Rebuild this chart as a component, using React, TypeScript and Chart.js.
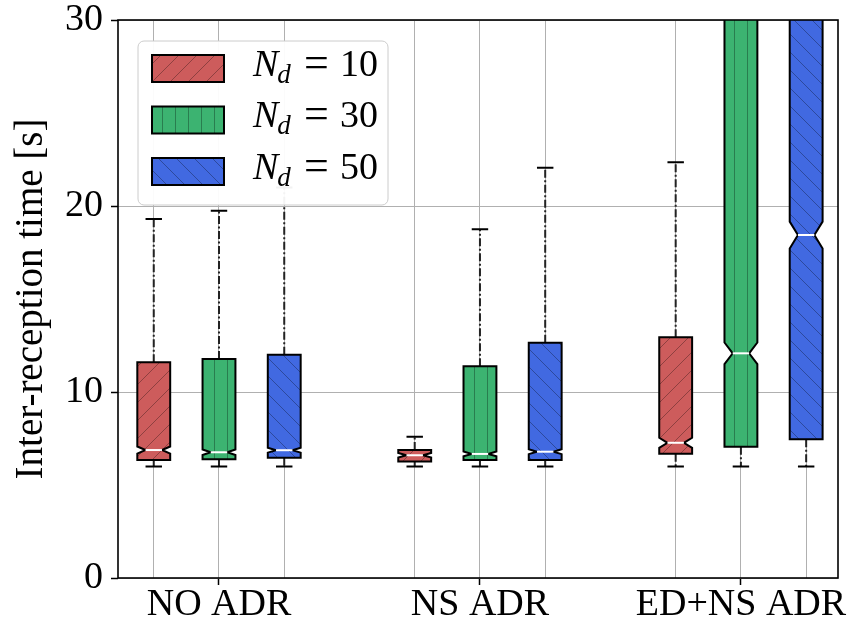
import { useEffect, useRef } from 'react';
import { Chart, registerables } from 'chart.js';

Chart.register(...registerables);

// Scheme groups along the x axis
const categories = ['NO ADR', 'NS ADR', 'ED+NS ADR'];
const seriesNd = ['10', '30', '50'];

// N_d = 10
const whiskerLow10 = [6.0, 6.0, 6.0];
const q1_10 = [6.35, 6.27, 6.68];
const median10 = [6.88, 6.6, 7.27];
const q3_10 = [11.6, 6.88, 12.95];
const whiskerHigh10 = [19.3, 7.6, 22.35];
const notch10 = [0.19, 0.12, 0.27];

// N_d = 30
const whiskerLow30 = [6.0, 6.0, 6.0];
const q1_30 = [6.38, 6.34, 7.06];
const median30 = [6.76, 6.67, 12.08];
const q3_30 = [11.78, 11.38, 38.0];
const whiskerHigh30 = [19.75, 18.75, 70.0];
const notch30 = [0.15, 0.13, 0.58];

// N_d = 50
const whiskerLow50 = [6.0, 6.0, 6.0];
const q1_50 = [6.47, 6.34, 7.46];
const median50 = [6.87, 6.79, 18.44];
const q3_50 = [12.0, 12.65, 42.0];
const whiskerHigh50 = [21.0, 22.05, 80.0];
const notch50 = [0.13, 0.13, 0.72];

const yTicks = [0, 10, 20, 30];

type Stats = { lo: number[]; q1: number[]; med: number[]; q3: number[]; hi: number[]; notch: number[] };

const seriesStats: Stats[] = [
  { lo: whiskerLow10, q1: q1_10, med: median10, q3: q3_10, hi: whiskerHigh10, notch: notch10 },
  { lo: whiskerLow30, q1: q1_30, med: median30, q3: q3_30, hi: whiskerHigh30, notch: notch30 },
  { lo: whiskerLow50, q1: q1_50, med: median50, q3: q3_50, hi: whiskerHigh50, notch: notch50 },
];

const fillColors = ['#cd5c5c', '#3cb371', '#4169e1'];
const hatchKinds = ['/', '|', '\\'];
const seriesOffsets = [-0.25, 0, 0.25];
const BOX_WIDTH = 0.126;
const FONT = '"Liberation Serif", "Times New Roman", serif';

const tickPositions: number[] = [];
categories.forEach((_, g) => seriesOffsets.forEach((o) => tickPositions.push(g + 1 + o)));
tickPositions.sort((a, b) => a - b);

function makeHatch(kind: string): CanvasPattern | string {
  const c = document.createElement('canvas');
  const size = kind === '|' ? 13 : 18;
  c.width = size;
  c.height = size;
  const g = c.getContext('2d')!;
  g.strokeStyle = 'rgba(0,0,0,0.3)';
  g.lineWidth = 1;
  g.beginPath();
  if (kind === '|') {
    g.moveTo(6.5, 0);
    g.lineTo(6.5, size);
  } else {
    for (const o of [-size, 0, size]) {
      if (kind === '/') {
        g.moveTo(o, size);
        g.lineTo(o + size, 0);
      } else {
        g.moveTo(o, 0);
        g.lineTo(o + size, size);
      }
    }
  }
  g.stroke();
  return g.createPattern(c, 'repeat') || 'transparent';
}

function drawBox(
  ctx: CanvasRenderingContext2D,
  chart: Chart,
  pos: number,
  s: Stats,
  i: number,
  fill: string,
  hatch: CanvasPattern | string,
) {
  const xs = chart.scales.x;
  const ys = chart.scales.y;
  const xc = xs.getPixelForValue(pos);
  const half = (xs.getPixelForValue(pos + BOX_WIDTH / 2) - xs.getPixelForValue(pos - BOX_WIDTH / 2)) / 2;
  const L = xc - half;
  const R = xc + half;
  const yLo = ys.getPixelForValue(s.lo[i]);
  const yQ1 = ys.getPixelForValue(s.q1[i]);
  const yMed = ys.getPixelForValue(s.med[i]);
  const yQ3 = ys.getPixelForValue(s.q3[i]);
  const yHi = ys.getPixelForValue(s.hi[i]);
  const yNlo = ys.getPixelForValue(s.med[i] - s.notch[i]);
  const yNhi = ys.getPixelForValue(s.med[i] + s.notch[i]);

  // whiskers (dash-dot)
  ctx.save();
  ctx.strokeStyle = '#222';
  ctx.lineWidth = 2;
  ctx.setLineDash([8, 2.5, 2, 2.5]);
  ctx.beginPath();
  ctx.moveTo(xc, yQ3);
  ctx.lineTo(xc, yHi);
  ctx.moveTo(xc, yQ1);
  ctx.lineTo(xc, yLo);
  ctx.stroke();
  ctx.restore();

  // caps
  ctx.save();
  ctx.strokeStyle = '#000';
  ctx.lineWidth = 2;
  ctx.beginPath();
  ctx.moveTo(xc - half / 2, yHi);
  ctx.lineTo(xc + half / 2, yHi);
  ctx.moveTo(xc - half / 2, yLo);
  ctx.lineTo(xc + half / 2, yLo);
  ctx.stroke();
  ctx.restore();

  // notched box
  const inset = half / 2;
  ctx.save();
  ctx.beginPath();
  ctx.moveTo(L, yQ1);
  ctx.lineTo(L, yNlo);
  ctx.lineTo(L + inset, yMed);
  ctx.lineTo(L, yNhi);
  ctx.lineTo(L, yQ3);
  ctx.lineTo(R, yQ3);
  ctx.lineTo(R, yNhi);
  ctx.lineTo(R - inset, yMed);
  ctx.lineTo(R, yNlo);
  ctx.lineTo(R, yQ1);
  ctx.closePath();
  ctx.fillStyle = fill;
  ctx.fill();
  ctx.fillStyle = hatch;
  ctx.fill();
  ctx.strokeStyle = '#000';
  ctx.lineWidth = 2;
  ctx.lineJoin = 'miter';
  ctx.stroke();

  // median
  ctx.strokeStyle = '#fff';
  ctx.lineWidth = 2;
  ctx.beginPath();
  ctx.moveTo(L + inset, yMed);
  ctx.lineTo(R - inset, yMed);
  ctx.stroke();
  ctx.restore();
}

function roundRectPath(ctx: CanvasRenderingContext2D, x: number, y: number, w: number, h: number, r: number) {
  ctx.beginPath();
  ctx.moveTo(x + r, y);
  ctx.lineTo(x + w - r, y);
  ctx.arcTo(x + w, y, x + w, y + r, r);
  ctx.lineTo(x + w, y + h - r);
  ctx.arcTo(x + w, y + h, x + w - r, y + h, r);
  ctx.lineTo(x + r, y + h);
  ctx.arcTo(x, y + h, x, y + h - r, r);
  ctx.lineTo(x, y + r);
  ctx.arcTo(x, y, x + r, y, r);
  ctx.closePath();
}

export default function App() {
  const canvasRef = useRef<HTMLCanvasElement | null>(null);

  useEffect(() => {
    const canvas = canvasRef.current;
    if (!canvas) return;
    const hatches = hatchKinds.map(makeHatch);

    const boxPlugin = {
      id: 'notchedBoxes',
      afterDatasetsDraw(chart: Chart) {
        const { ctx, chartArea } = chart;
        ctx.save();
        ctx.beginPath();
        ctx.rect(chartArea.left, chartArea.top, chartArea.right - chartArea.left, chartArea.bottom - chartArea.top);
        ctx.clip();
        chart.data.datasets.forEach((ds: any, si: number) => {
          ds.data.forEach((pt: any, i: number) => {
            drawBox(ctx, chart, pt.x, seriesStats[si], i, fillColors[si], hatches[si]);
          });
        });
        ctx.restore();
      },
      afterDraw(chart: Chart) {
        const { ctx, chartArea } = chart;
        // legend
        const lx = chartArea.left + 20;
        const ly = chartArea.top + 21;
        ctx.save();
        roundRectPath(ctx, lx, ly, 250, 164, 6);
        ctx.fillStyle = 'rgba(255,255,255,0.95)';
        ctx.fill();
        ctx.strokeStyle = '#cccccc';
        ctx.lineWidth = 1;
        ctx.stroke();
        chart.data.datasets.forEach((ds: any, si: number) => {
          const cy = ly + 27.5 + si * 51.5;
          const sx = lx + 14;
          ctx.fillStyle = fillColors[si];
          ctx.fillRect(sx, cy - 13.5, 72, 27);
          ctx.fillStyle = hatches[si];
          ctx.fillRect(sx, cy - 13.5, 72, 27);
          ctx.strokeStyle = '#000';
          ctx.lineWidth = 2;
          ctx.strokeRect(sx, cy - 13.5, 72, 27);

          const tx = lx + 115;
          const base = cy + 7;
          ctx.fillStyle = '#000';
          ctx.textBaseline = 'alphabetic';
          ctx.textAlign = 'left';
          ctx.font = `italic 38px ${FONT}`;
          ctx.fillText('N', tx, base);
          const wN = ctx.measureText('N').width;
          ctx.font = `italic 27px ${FONT}`;
          ctx.fillText('d', tx + wN - 1, base + 7);
          ctx.font = `44px ${FONT}`;
          ctx.fillText('=', tx + 51, base + 1);
          ctx.font = `38px ${FONT}`;
          ctx.fillText(ds.label, tx + 87, base);
        });
        ctx.restore();

        // axes frame
        ctx.save();
        ctx.strokeStyle = '#000';
        ctx.lineWidth = 1.6;
        ctx.strokeRect(chartArea.left, chartArea.top, chartArea.right - chartArea.left, chartArea.bottom - chartArea.top);
        ctx.restore();
      },
    };

    const chart = new Chart(canvas, {
      type: 'scatter',
      data: {
        datasets: seriesStats.map((s, si) => ({
          label: seriesNd[si],
          data: s.med.map((m, g) => ({ x: g + 1 + seriesOffsets[si], y: m })),
          pointRadius: 0,
          showLine: false,
        })),
      },
      options: {
        animation: false,
        responsive: false,
        devicePixelRatio: 1,
        layout: { padding: { top: 20, right: 18, left: 0, bottom: 0 } },
        plugins: { legend: { display: false }, tooltip: { enabled: false } },
        scales: {
          x: {
            type: 'linear',
            min: 0.613,
            max: 3.372,
            afterBuildTicks: (s: any) => {
              s.ticks = tickPositions.map((v) => ({ value: v }));
            },
            afterFit: (s: any) => {
              s.height = 48;
              s.paddingLeft = 0;
              s.paddingRight = 0;
            },
            ticks: {
              autoSkip: false,
              maxRotation: 0,
              minRotation: 0,
              padding: 1,
              color: '#000',
              font: { family: FONT, size: 38, lineHeight: 1 },
              callback: (v: any) => (Number.isInteger(v) ? categories[v - 1] : ''),
            },
            grid: {
              color: '#b0b0b0',
              lineWidth: 1,
              tickLength: 7,
              tickWidth: 1.5,
              tickColor: (c: any) => (c.tick && Number.isInteger(c.tick.value) ? '#000' : 'rgba(0,0,0,0)'),
            },
            border: { display: false },
          },
          y: {
            min: 0,
            max: 30,
            afterBuildTicks: (s: any) => {
              s.ticks = yTicks.map((v) => ({ value: v }));
            },
            afterFit: (s: any) => {
              s.width = 118;
              s.paddingTop = 0;
              s.paddingBottom = 0;
            },
            ticks: {
              padding: 8,
              color: '#000',
              font: { family: FONT, size: 38, lineHeight: 1 },
            },
            grid: {
              color: '#b0b0b0',
              lineWidth: 1,
              tickLength: 7,
              tickWidth: 1.5,
              tickColor: '#000',
            },
            border: { display: false },
            title: {
              display: true,
              text: 'Inter-reception time [s]',
              color: '#000',
              font: { family: FONT, size: 39, lineHeight: 1.2 },
              padding: { top: 8, bottom: 0 },
            },
          },
        },
      },
      plugins: [boxPlugin],
    });

    return () => chart.destroy();
  }, []);

  return (
    <div style={{ position: 'absolute', left: 0, top: 0, width: 856, height: 626, background: '#fff' }}>
      <canvas ref={canvasRef} width={856} height={626} style={{ display: 'block' }} />
    </div>
  );
}
